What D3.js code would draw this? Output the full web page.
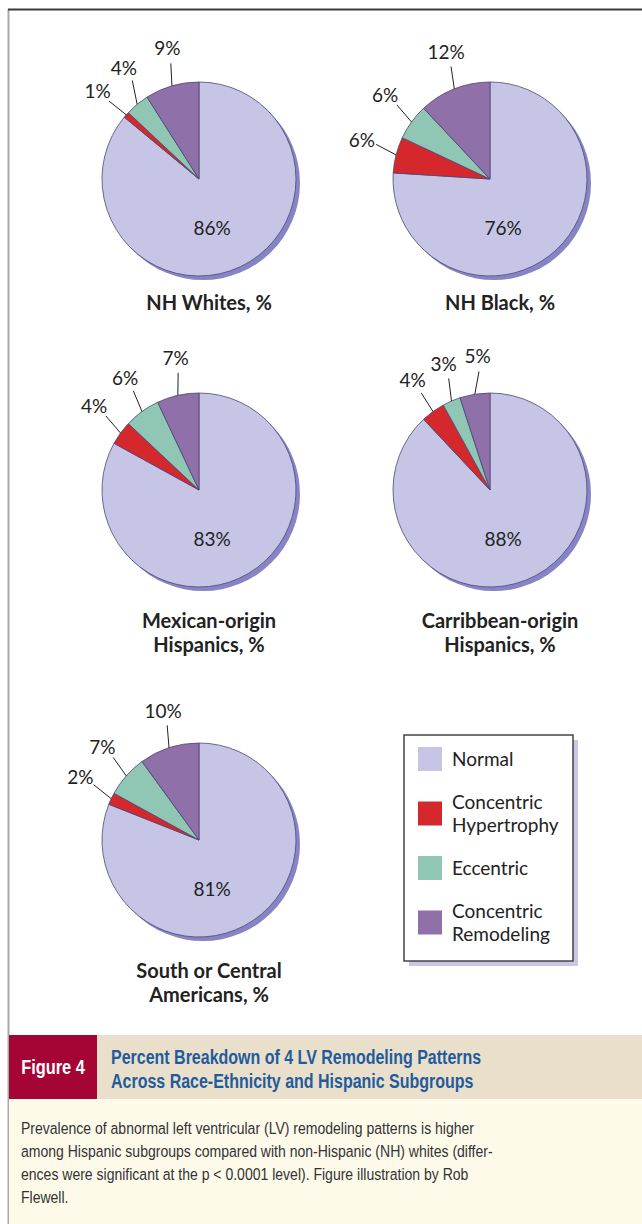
<!DOCTYPE html>
<html>
<head>
<meta charset="utf-8">
<script src="https://cdn.jsdelivr.net/npm/d3@7"></script>
<style>
  body { margin: 0; background: #fff; }
  svg { display: block; }
  .pie-text { font-family: Lato, "Open Sans", sans-serif; fill: #222; }
  .narrow { font-family: "Liberation Sans", Arial, sans-serif; }
</style>
</head>
<body>
<div class="container"></div>
<script>
// pie chart grid of LV remodeling patterns, one pie per group

const width = 642;
const height = 1224;

// data
const categories = ['Normal', 'Concentric Hypertrophy', 'Eccentric', 'Concentric Remodeling'];
const legendLines = [['Normal'], ['Concentric', 'Hypertrophy'], ['Eccentric'], ['Concentric', 'Remodeling']];
const groupTitles = [
    ['NH Whites, %'],
    ['NH Black, %'],
    ['Mexican-origin', 'Hispanics, %'],
    ['Carribbean-origin', 'Hispanics, %'],
    ['South or Central', 'Americans, %']
];
const normal = [86, 76, 83, 88, 81];
const hypertrophy = [1, 6, 4, 4, 2];
const eccentric = [4, 6, 6, 3, 7];
const remodeling = [9, 12, 7, 5, 10];

const colors = ['#c6c5e6', '#d5282d', '#8fc6b4', '#9070a8'];

const captionLabel = 'Figure 4';
const captionTitle = ['Percent Breakdown of 4 LV Remodeling Patterns', 'Across Race-Ethnicity and Hispanic Subgroups'];
const captionBody = [
    'Prevalence of abnormal left ventricular (LV) remodeling patterns is higher',
    'among Hispanic subgroups compared with non-Hispanic (NH) whites (differ-',
    'ences were significant at the p < 0.0001 level). Figure illustration by Rob',
    'Flewell.'
];

const radius = 97;
const colX = [199, 490];
const rowY = [179, 490, 840];

const color = d3.scaleOrdinal().domain(categories).range(colors);

const svg = d3.select('.container')
    .append('svg')
    .attr('width', width)
    .attr('height', height);

// frame
svg.append('line').attr('x1', 8.5).attr('x2', 8.5).attr('y1', 9).attr('y2', height)
    .attr('stroke', '#a9a9a9').attr('stroke-width', 2);
svg.append('line').attr('x1', 8).attr('x2', width).attr('y1', 9.5).attr('y2', 9.5)
    .attr('stroke', '#3a3a3a').attr('stroke-width', 2);

const pie = d3.pie().sort(null).value(d => d.value);
const arc = d3.arc().innerRadius(0).outerRadius(radius);

function polar(a, r) {
    return [r * Math.sin(a), -r * Math.cos(a)];
}

// spread small-slice labels so they don't collide
function spreadAngles(mids, gap) {
    const out = mids.slice();
    for (let it = 0; it < 30; it++) {
        for (let i = 1; i < out.length; i++) {
            const d = out[i - 1] - out[i];
            if (d < gap) {
                const push = (gap - d) / 2;
                out[i - 1] += push;
                out[i] -= push;
            }
        }
    }
    return out;
}

const deg = Math.PI / 180;

groupTitles.forEach((title, gi) => {
    const cx = colX[gi % 2];
    const cy = rowY[Math.floor(gi / 2)];
    const values = [normal[gi], hypertrophy[gi], eccentric[gi], remodeling[gi]]
        .map((v, i) => ({ key: categories[i], value: v }));
    const arcs = pie(values);

    const g = svg.append('g').attr('transform', `translate(${cx},${cy})`);

    // drop shadow
    g.append('circle')
        .attr('cx', 4).attr('cy', 4).attr('r', radius)
        .attr('fill', '#8684c4');

    g.selectAll('.slice')
        .data(arcs)
        .enter()
        .append('path')
        .attr('class', 'slice')
        .attr('d', arc)
        .attr('fill', d => color(d.data.key))
        .attr('stroke', '#4d4775')
        .attr('stroke-width', 0.8);

    // big slice label inside
    const inner = polar(165 * deg, 51);
    g.append('text')
        .attr('class', 'pie-text')
        .attr('x', inner[0]).attr('y', inner[1])
        .attr('text-anchor', 'middle')
        .attr('dy', '0.35em')
        .attr('font-size', 19)
        .text(arcs[0].data.value + '%');

    // small slices, outside with leader lines (ordered from the top going left)
    const small = arcs.slice(1).reverse();
    const mids = small.map(d => (d.startAngle + d.endAngle) / 2 - 2 * Math.PI);
    const labAngles = spreadAngles(mids, 15 * deg).map(a => a + 2.5 * deg);

    small.forEach((d, i) => {
        const p0 = polar(mids[i], radius);
        const p1 = polar(labAngles[i], radius + 22);
        const pt = polar(labAngles[i], radius + 37);
        g.append('line')
            .attr('x1', p0[0]).attr('y1', p0[1])
            .attr('x2', p1[0]).attr('y2', p1[1])
            .attr('stroke', '#222').attr('stroke-width', 1);
        g.append('text')
            .attr('class', 'pie-text')
            .attr('x', pt[0]).attr('y', pt[1])
            .attr('text-anchor', 'middle')
            .attr('dy', '0.35em')
            .attr('font-size', 19)
            .text(d.data.value + '%');
    });

    const t = g.append('text')
        .attr('class', 'pie-text')
        .attr('text-anchor', 'middle')
        .attr('font-size', 20)
        .attr('font-weight', 'bold')
        .attr('fill', '#111');
    title.forEach((line, li) => {
        t.append('tspan')
            .attr('x', 10)
            .attr('y', (title.length === 1 ? 124 : 131) + li * 24)
            .attr('dy', '0.35em')
            .text(line);
    });
});

// legend
const lg = svg.append('g').attr('transform', 'translate(404,735)');
lg.append('rect').attr('x', 5).attr('y', 5).attr('width', 169).attr('height', 226).attr('fill', '#c9c7e6');
lg.append('rect').attr('width', 169).attr('height', 226)
    .attr('fill', '#fff').attr('stroke', '#444').attr('stroke-width', 1.5);

let yc = 24;
categories.forEach((c, i) => {
    if (i > 0) yc += 11.5 * (legendLines[i - 1].length + legendLines[i].length) + 20;
    lg.append('rect')
        .attr('x', 14).attr('y', yc - 12)
        .attr('width', 24).attr('height', 24)
        .attr('fill', color(c));
    const lines = legendLines[i];
    const tx = lg.append('text')
        .attr('class', 'pie-text')
        .attr('font-size', 19)
        .attr('fill', '#222');
    lines.forEach((line, li) => {
        tx.append('tspan')
            .attr('x', 48)
            .attr('y', yc - (lines.length - 1) * 11.5 + li * 23)
            .attr('dy', '0.35em')
            .text(line);
    });
});

// caption block
svg.append('rect').attr('x', 9).attr('y', 1035).attr('width', 88).attr('height', 64).attr('fill', '#a50534');
svg.append('rect').attr('x', 97).attr('y', 1035).attr('width', width - 97).attr('height', 64).attr('fill', '#eadfca');
svg.append('rect').attr('x', 9).attr('y', 1099).attr('width', width - 9).attr('height', height - 1099).attr('fill', '#fdfaea');

// squeeze a regular face horizontally to stand in for the condensed one
function narrowText(x, y, sx) {
    return svg.append('text')
        .attr('class', 'narrow')
        .attr('transform', `translate(${x},${y}) scale(${sx},1)`);
}

narrowText(53, 1067, 0.82)
    .attr('dy', '0.35em')
    .attr('text-anchor', 'middle')
    .attr('font-size', 20).attr('font-weight', 'bold')
    .attr('fill', '#fff')
    .text(captionLabel);

captionTitle.forEach((line, i) => {
    narrowText(111, 1064 + i * 24, 0.82)
        .attr('font-size', 19.5).attr('font-weight', 'bold')
        .attr('fill', '#1f5c9c')
        .text(line);
});

captionBody.forEach((line, i) => {
    narrowText(21, 1134 + i * 23, 0.85)
        .attr('font-size', 16.5)
        .attr('fill', '#333')
        .text(line);
});
</script>
</body>
</html>
